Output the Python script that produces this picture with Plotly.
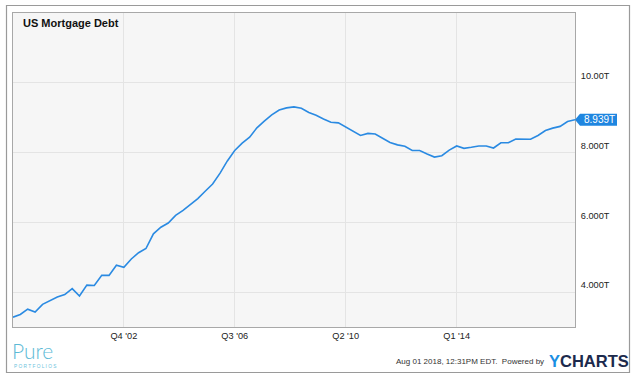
import pandas as pd
import plotly.graph_objects as go

# ---- data (quarterly, Q1 1999 .. Q1 2018), trillions USD ----
start_quarter = "1999-01-01"
debt_trillions = [
    3.28, 3.36, 3.51, 3.43, 3.65, 3.75, 3.86, 3.93, 4.10, 3.89,
    4.20, 4.19, 4.48, 4.48, 4.77, 4.71, 4.95, 5.13, 5.25, 5.67,
    5.86, 5.98, 6.20, 6.34, 6.50, 6.68, 6.89, 7.10, 7.41, 7.76,
    8.06, 8.27, 8.44, 8.71, 8.90, 9.08, 9.22, 9.28, 9.31, 9.27,
    9.15, 9.07, 8.96, 8.87, 8.85, 8.73, 8.63, 8.49, 8.55, 8.53,
    8.41, 8.29, 8.22, 8.18, 8.06, 8.06, 7.96, 7.87, 7.91, 8.07,
    8.19, 8.12, 8.15, 8.19, 8.19, 8.13, 8.28, 8.28, 8.39, 8.38,
    8.38, 8.49, 8.63, 8.70, 8.75, 8.89, 8.939,
]
dates = pd.date_range(start_quarter, periods=len(debt_trillions), freq="QS")

x_tick_dates = ["2002-10-01", "2006-07-01", "2010-04-01", "2014-01-01"]
x_tick_labels = ["Q4 '02", "Q3 '06", "Q2 '10", "Q1 '14"]
y_tick_values = [4, 6, 8, 10]
y_tick_labels = ["4.000T", "6.000T", "8.000T", "10.00T"]
y_range = [3, 12]
last_label = "8.939T"
title_text = "US Mortgage Debt"
footer_text = "Aug 01 2018, 12:31PM EDT.  Powered by"

LINE_BLUE = "#2a8ae2"
FONT = "Liberation Sans, Arial, sans-serif"

fig = go.Figure()
fig.add_trace(go.Scatter(
    x=dates, y=debt_trillions, mode="lines",
    line=dict(color=LINE_BLUE, width=1.6),
    hoverinfo="skip", showlegend=False,
))

W, H = 636, 379
ml, mr, mt, mb = 13, 61, 13, 52
pw, ph = W - ml - mr, H - mt - mb

def px_x(px):
    return (px - ml) / pw

def px_y(py):
    return (H - mb - py) / ph

fig.update_layout(
    width=W, height=H,
    margin=dict(l=ml, r=mr, t=mt, b=mb, pad=0),
    paper_bgcolor="white",
    plot_bgcolor="#f6f6f6",
    font=dict(family=FONT, color="#333333"),
    showlegend=False,
    xaxis=dict(
        type="date",
        range=[dates[0], dates[-1]],
        tickvals=x_tick_dates, ticktext=x_tick_labels,
        showgrid=True, gridcolor="#e4e4e4", gridwidth=1,
        showline=True, linecolor="#a8a8a8", linewidth=1, mirror=True,
        ticks="", tickfont=dict(size=9.2, color="#222222"),
        zeroline=False, fixedrange=True,
    ),
    yaxis=dict(
        side="right",
        range=y_range,
        tickvals=y_tick_values, ticktext=y_tick_labels,
        showgrid=True, gridcolor="#e4e4e4", gridwidth=1,
        showline=True, linecolor="#a8a8a8", linewidth=1, mirror=True,
        ticks="", tickfont=dict(size=9.2, color="#222222"),
        ticklabelshift=-7, ticklabelstandoff=3,
        zeroline=False, fixedrange=True,
    ),
)

# outer frame
fig.add_shape(
    type="rect", xref="paper", yref="paper",
    x0=px_x(6.5), x1=px_x(629.5), y0=px_y(372.5), y1=px_y(5.5),
    line=dict(color="#9a9a9a", width=1.2), fillcolor="rgba(0,0,0,0)",
    layer="below",
)

# last value tag (pointer shape anchored to the last point)
fig.add_shape(
    type="path", xref="paper", yref="y",
    xsizemode="pixel", ysizemode="pixel",
    xanchor=1, yanchor=debt_trillions[-1],
    path="M 0 0 L 5 6 L 42 6 L 42 -6 L 5 -6 Z",
    fillcolor="#1f86e0", line=dict(width=0),
)
fig.add_annotation(
    xref="paper", yref="y", x=1, y=debt_trillions[-1],
    xanchor="left", yanchor="middle", xshift=7,
    text=last_label, showarrow=False,
    font=dict(size=10, color="white", family=FONT),
)

# title
fig.add_annotation(
    xref="paper", yref="paper", x=px_x(21), y=px_y(22.5),
    xanchor="left", yanchor="middle",
    text="<b>" + title_text + "</b>", showarrow=False,
    font=dict(size=11, color="#111111", family=FONT),
)

# footer
fig.add_annotation(
    xref="paper", yref="paper", x=px_x(546), y=px_y(361.5),
    xanchor="right", yanchor="middle",
    text=footer_text, showarrow=False,
    font=dict(size=8, color="#333333", family=FONT),
)
fig.add_annotation(
    xref="paper", yref="paper", x=px_x(547), y=px_y(361),
    xanchor="left", yanchor="middle",
    text="<b><span style='color:#1a8fe3'>Y</span><span style='color:#1c2a4d'>CHARTS</span></b>",
    showarrow=False,
    font=dict(size=16.5, family=FONT),
)

# Pure Portfolios logo
fig.add_annotation(
    xref="paper", yref="paper", x=px_x(11), y=px_y(359),
    xanchor="left", yanchor="bottom", yshift=-5,
    text="Pure", showarrow=False, borderpad=0,
    font=dict(size=21, color="#5cbad6", family="Lato, sans-serif", weight=300),
)
fig.add_annotation(
    xref="paper", yref="paper", x=px_x(13), y=px_y(366),
    xanchor="left", yanchor="middle", borderpad=0,
    text="P O R T F O L I O S", showarrow=False,
    font=dict(size=4.8, color="#6cc3dc", family=FONT),
)

fig.write_html(
    "out.html",
    config={"displayModeBar": False},
    post_script="document.body.style.margin='0';",
)
